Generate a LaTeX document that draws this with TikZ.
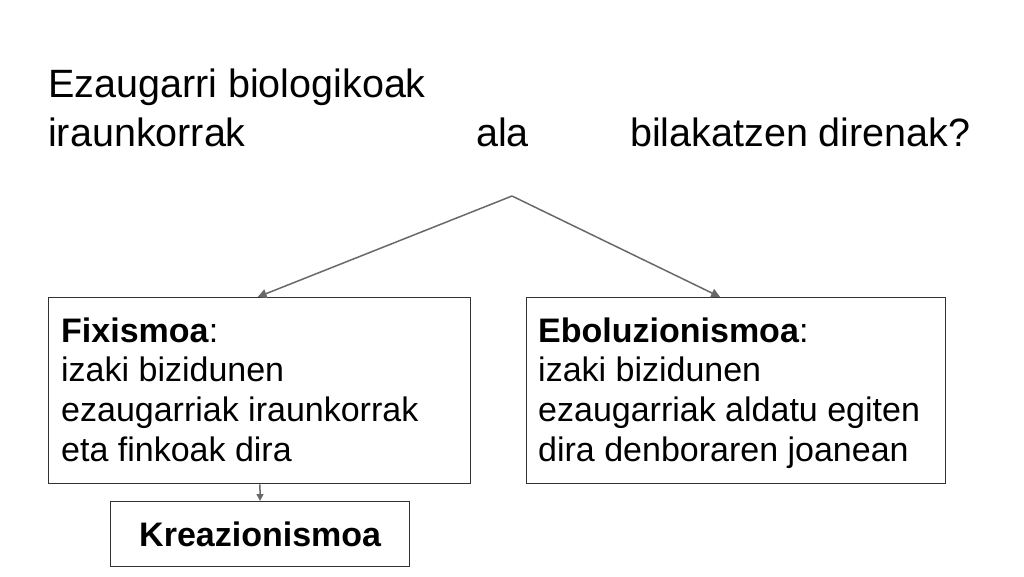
\documentclass[tikz,border=0pt]{standalone}
\usepackage{fontspec}
\setmainfont{Liberation Sans}
\usetikzlibrary{calc,arrows.meta}
\definecolor{linegray}{RGB}{105,105,105}
\definecolor{boxgray}{RGB}{50,50,50}
\newcommand{\titlesize}{\fontsize{39.5}{49}\selectfont}
\newcommand{\boxsize}{\fontsize{34}{39.6}\selectfont}

\begin{document}
\begin{tikzpicture}[x=1pt,y=-1pt,
  box/.style={draw=boxgray,line width=1.3pt,inner sep=0pt},
  boxtext/.style={anchor=base west,inner sep=0pt,align=left,font=\boxsize},
  title/.style={anchor=base west,inner sep=0pt,font=\titlesize},
  conn/.style={draw=linegray,line width=1.5pt,-{Triangle[length=9pt,width=9pt]}}]
  \useasboundingbox (0,0) rectangle (1024,576);

  \node[title] (title1) at (48,97) {Ezaugarri biologikoak};
  \node[title] (title2) at (48,146) {iraunkorrak};
  \node[title] (ala) at (476,146) {ala};
  \node[title] (bilakatu) at (630,146) {bilakatzen direnak?};

  \node[box,anchor=north west,minimum width=422,minimum height=186] (fix) at (48,297) {};
  \node[box,anchor=north west,minimum width=419,minimum height=186] (evo) at (526,297) {};
  % base of a multi-line node is the last line
  \node[boxtext] (fixText) at ($(fix.north west)+(13,164)$)
    {\textbf{Fixismoa}:\\izaki bizidunen\\ezaugarriak iraunkorrak\\eta finkoak dira};
  \node[boxtext] (evoText) at ($(evo.north west)+(12,164)$)
    {\textbf{Eboluzionismoa}:\\izaki bizidunen\\ezaugarriak aldatu egiten\\dira denboraren joanean};
  \node[box,anchor=north west,minimum width=299,minimum height=65,font=\boxsize\bfseries] (krea) at (110,501) {Kreazionismoa};

  \coordinate (apex) at (512,196);
  \coordinate (evoTop) at ($(evo.north)+(-16,0)$);

  \draw (apex) edge[conn] ($(fix.north)+(-2,0)$);
  \draw (apex) edge[conn] (evoTop);
  \draw (fix) edge[conn,-{Triangle[length=7pt,width=7pt]}] (krea);

\end{tikzpicture}
\end{document}
